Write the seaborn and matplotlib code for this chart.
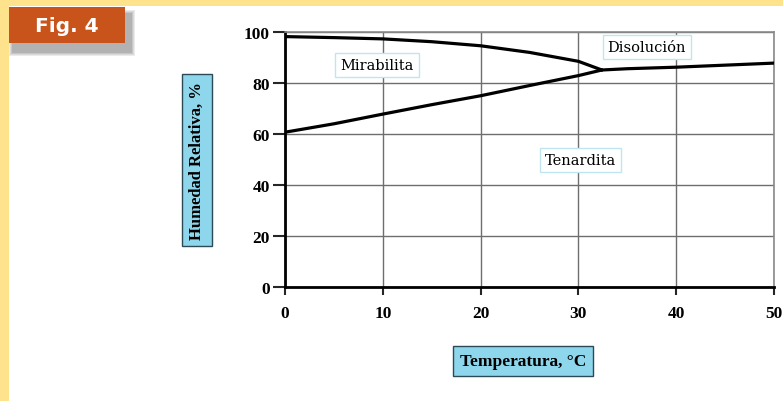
import matplotlib
matplotlib.use("Agg")
import matplotlib.pyplot as plt
from matplotlib.patches import Rectangle
import seaborn as sns

# Curva superior: mirabilita / disolución
temp_sup = [0, 5, 10, 15, 20, 25, 30, 32.4]
hr_sup = [98.2, 97.8, 97.3, 96.2, 94.6, 92.0, 88.5, 85.1]

# Curva inferior: mirabilita / tenardita
temp_inf = [0, 5, 10, 15, 20, 25, 30, 32.4]
hr_inf = [60.7, 64.0, 67.8, 71.5, 75.0, 79.0, 82.9, 85.1]

# Tenardita / disolución
temp_dis = [32.4, 35, 40, 45, 50]
hr_dis = [85.1, 85.6, 86.2, 87.0, 87.8]

x_ticks = [0, 10, 20, 30, 40, 50]
y_ticks = [0, 20, 40, 60, 80, 100]

regiones = ["Mirabilita", "Disolución", "Tenardita"]
reg_x = [9.4, 37.0, 30.2]
reg_y = [87.0, 94.1, 49.8]

sns.set_style("white")

W, H = 783, 402
fig = plt.figure(figsize=(W / 100, H / 100), dpi=100)
fig.patch.set_facecolor("#FFE38C")
fig.add_artist(Rectangle((9 / W, 0), (W - 9) / W, (H - 7) / H,
                         transform=fig.transFigure, fc="white", ec="none", zorder=-5))

# etiqueta "Fig. 4" con sombra difusa
for k, a in enumerate([0.12, 0.12, 0.15, 0.2]):
    d = 4 - k
    fig.add_artist(Rectangle(((13 - d) / W, 1 - (53 + d) / H), (118 + 2 * d) / W, (38 + 2 * d) / H,
                             transform=fig.transFigure, fc="#606060", ec="none", alpha=a, zorder=1))
fig.add_artist(Rectangle((9 / W, 1 - 44 / H), 116 / W, 36 / H, transform=fig.transFigure,
                         fc="#C8531B", ec="none", zorder=2))
fig.text(67 / W, 1 - 26 / H, "Fig. 4", color="white", fontsize=14.5, fontweight="bold",
         fontfamily="DejaVu Sans", ha="center", va="center", zorder=3)

ax = fig.add_axes([285 / W, 1 - 288 / H, (774 - 285) / W, (288 - 33) / H])

for tx, hr in [(temp_sup, hr_sup), (temp_inf, hr_inf), (temp_dis, hr_dis)]:
    sns.lineplot(x=tx, y=hr, sort=False, color="black", lw=2.3, ax=ax, zorder=4)

ax.set_xlim(0, 50)
ax.set_ylim(0, 100)
ax.set_xticks(x_ticks)
ax.set_yticks(y_ticks)
ax.set_axisbelow(True)
ax.grid(True, color="#6e6e6e", lw=1.0)

for s in ["left", "bottom"]:
    ax.spines[s].set_color("black")
    ax.spines[s].set_linewidth(2.0)
for s in ["top", "right"]:
    ax.spines[s].set_color("#8a8a8a")
    ax.spines[s].set_linewidth(1.2)

ax.tick_params(axis="y", direction="out", length=9, width=1.5, pad=2, left=True)
ax.tick_params(axis="x", direction="out", length=6, width=1.5, pad=7, bottom=True)
for lab in ax.get_xticklabels() + ax.get_yticklabels():
    lab.set_fontfamily("Liberation Serif")
    lab.set_fontweight("bold")
    lab.set_fontsize(12.5)
    lab.set_color("black")

for nombre, rx, ry in zip(regiones, reg_x, reg_y):
    ax.text(rx, ry, nombre, ha="center", va="center", fontsize=10.5, fontfamily="DejaVu Serif",
            color="black", zorder=5,
            bbox=dict(boxstyle="square,pad=0.35", fc="white", ec="#bfe6f0", lw=1))

caja = dict(boxstyle="square,pad=0.4", fc="#8ED6EC", ec="#2b4a55", lw=1)
fig.text(197 / W, 1 - 161 / H, "Humedad Relativa, %", rotation=90, ha="center", va="center",
         fontfamily="Liberation Serif", fontweight="bold", fontsize=12, color="black", bbox=caja)
fig.text(523 / W, 1 - 362 / H, "Temperatura, °C", ha="center", va="center",
         fontfamily="Liberation Serif", fontweight="bold", fontsize=12.5, color="black", bbox=caja)

ax.set_xlabel("")
ax.set_ylabel("")

fig.savefig("out.png", dpi=100)
